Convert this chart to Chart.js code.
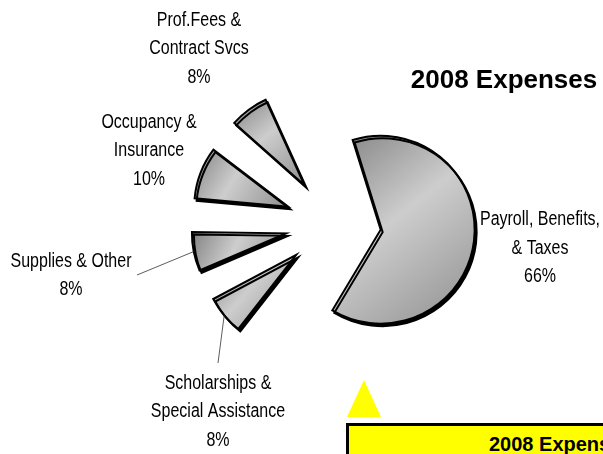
<!DOCTYPE html>
<html>
<head>
<meta charset="utf-8">
<script src="https://cdn.jsdelivr.net/npm/chart.js@4.4.1/dist/chart.umd.min.js"></script>
<style>
  html, body { margin: 0; padding: 0; background: #fff; overflow: hidden; }
  #wrap { position: relative; width: 603px; height: 454px; overflow: hidden; }
  #expense-chart { position: absolute; left: 0; top: 0; }
  .tri {
    position: absolute; left: 347px; top: 380px; width: 0; height: 0;
    border-left: 17px solid transparent; border-right: 17px solid transparent;
    border-bottom: 37px solid #ffff00;
  }
  .box {
    position: absolute; left: 346px; top: 423px; width: 400px; height: 80px;
    border: 3px solid #000; background: #ffff00;
    font: bold 20px "Liberation Sans", Arial, sans-serif; line-height: 20px;
    padding: 8px 0 0 140px; box-sizing: border-box; white-space: nowrap; color: #000;
  }
</style>
</head>
<body>
<div id="wrap">
  <canvas id="expense-chart" width="603" height="454"></canvas>
  <div class="tri"></div>
  <div class="box">2008 Expenses</div>
</div>
<script>
// chart data (clockwise from the payroll slice)
const categories = [
  "Payroll, Benefits,|& Taxes",
  "Scholarships &|Special Assistance",
  "Supplies & Other",
  "Occupancy &|Insurance",
  "Prof.Fees &|Contract Svcs"
];
const percentages = [66, 8, 8, 10, 8];
const chartTitle = "2008 Expenses";

// every slice is pulled out the same distance (chart.js moves it offset/4)
const SLICE_OFFSET = 192;
const PIE_RADIUS = 94;

// label placement, relative to the pie centre
const labelLayout = [
  { dx: 207, dy: 22.5 },
  { dx: -115, dy: 186, leader: { dx: 0, dy: -47 } },
  { dx: -262, dy: 50, leader: { dx: 66, dy: 1 } },
  { dx: -184, dy: -75 },
  { dx: -134, dy: -177 }
];

const LABEL_FONT = '20px "Liberation Sans", Arial, sans-serif';
const LINE_PITCH = 28.5;

// chart.js grows an offset arc by offset/4 * (1 - sin(angle)); take that back out
function radiusGrowth(circ) {
  return (SLICE_OFFSET / 4) * (1 - Math.sin(Math.min(Math.PI, circ)));
}

// grey gradient over the bounding box of one slice
function sliceGradient(context) {
  const arc = context.element;
  if (!arc || arc.x === undefined) return "#bdbdbd";
  const { x, y, startAngle, endAngle } = arc;
  const r = PIE_RADIUS;
  const pts = [[x, y]];
  const angles = [startAngle, endAngle];
  for (let k = -8; k <= 8; k++) {
    const a = k * Math.PI / 2;
    if (a > startAngle && a < endAngle) angles.push(a);
  }
  angles.forEach((a) => pts.push([x + Math.cos(a) * r, y + Math.sin(a) * r]));
  const xs = pts.map((p) => p[0]);
  const ys = pts.map((p) => p[1]);
  const g = context.chart.ctx.createLinearGradient(
    Math.min(...xs), Math.min(...ys), Math.max(...xs), Math.max(...ys)
  );
  g.addColorStop(0, "#7f7f7f");
  g.addColorStop(0.45, "#cdcdcd");
  g.addColorStop(1, "#8f8f8f");
  return g;
}

// keep all slices the same size after exploding them
const radiusPlugin = {
  id: "evenRadius",
  afterDatasetUpdate(chart) {
    chart.getDatasetMeta(0).data.forEach((arc) => {
      arc.outerRadius = PIE_RADIUS - radiusGrowth(arc.endAngle - arc.startAngle);
    });
  }
};

// black extruded rim under each slice
const rimPlugin = {
  id: "rim",
  beforeDatasetsDraw(chart) {
    const ctx = chart.ctx;
    ctx.save();
    ctx.shadowColor = "#000";
    ctx.shadowOffsetX = 2;
    ctx.shadowOffsetY = 2.5;
    ctx.shadowBlur = 0;
  },
  afterDatasetsDraw(chart) {
    chart.ctx.restore();
  }
};

// slice labels, leader lines and title
const labelPlugin = {
  id: "sliceLabels",
  afterDraw(chart) {
    const ctx = chart.ctx;
    const meta = chart.getDatasetMeta(0);
    meta.data.forEach((arc, i) => {
      const lay = labelLayout[i];
      const cx = arc.x + lay.dx;
      const cy = arc.y + lay.dy;
      const lines = categories[i].split("|").concat([percentages[i] + "%"]);
      const top = cy - (lines.length - 1) * LINE_PITCH / 2;

      if (lay.leader) {
        const mid = (arc.startAngle + arc.endAngle) / 2;
        const reach = SLICE_OFFSET / 4 + PIE_RADIUS;
        const ex = arc.x + Math.cos(mid) * reach;
        const ey = arc.y + Math.sin(mid) * reach;
        ctx.save();
        ctx.strokeStyle = "#333";
        ctx.lineWidth = 0.8;
        ctx.beginPath();
        ctx.moveTo(cx + lay.leader.dx, cy + lay.leader.dy);
        ctx.lineTo(ex, ey);
        ctx.stroke();
        ctx.restore();
      }

      ctx.save();
      ctx.font = LABEL_FONT;
      ctx.fillStyle = "#000";
      ctx.textAlign = "center";
      ctx.textBaseline = "alphabetic";
      lines.forEach((line, k) => {
        ctx.save();
        ctx.translate(cx, top + k * LINE_PITCH + 7.2);
        ctx.scale(0.8, 1);
        ctx.fillText(line, 0, 0);
        ctx.restore();
      });
      ctx.restore();
    });

    ctx.save();
    ctx.font = 'bold 26px "Liberation Sans", Arial, sans-serif';
    ctx.fillStyle = "#000";
    ctx.textAlign = "center";
    ctx.textBaseline = "alphabetic";
    ctx.fillText(chartTitle, 504, 88);
    ctx.restore();
  }
};

const ctx = document.getElementById("expense-chart").getContext("2d");
const expenseChart = new Chart(ctx, {
  type: "pie",
  data: {
    labels: categories.map((c) => c.replace("|", " ")),
    datasets: [
      {
        data: percentages,
        backgroundColor: sliceGradient,
        borderColor: "#000",
        borderWidth: 2,
        borderJoinStyle: "miter",
        offset: SLICE_OFFSET,
        radius: PIE_RADIUS
      }
    ]
  },
  options: {
    responsive: false,
    animation: false,
    rotation: -22,
    layout: { padding: { left: 63, bottom: 6 } },
    plugins: {
      legend: { display: false },
      tooltip: { enabled: false },
      title: { display: false }
    }
  },
  plugins: [radiusPlugin, rimPlugin, labelPlugin]
});
// second pass so the gradients can use the slice geometry
expenseChart.update("none");
</script>
</body>
</html>
